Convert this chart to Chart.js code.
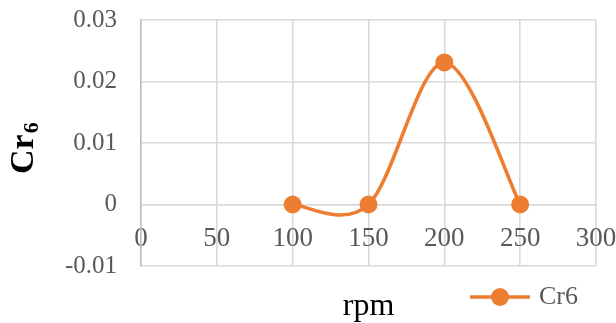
<!DOCTYPE html>
<html><head><meta charset="utf-8">
<script src="https://cdn.jsdelivr.net/npm/chart.js@4/dist/chart.umd.min.js"></script>
<style>html,body{margin:0;padding:0;background:#fff;}canvas{display:block;}</style>
</head><body>
<canvas id="c" width="616" height="323"></canvas>
<script>
const rpmValues = [100, 150, 200, 250];
const cr6Values = [0, 0, 0.0231, 0];
const seriesName = 'Cr6';
const xTitle = 'rpm';
const yTitleMain = 'Cr';
const yTitleSub = '6';
const xTickValues = [0, 50, 100, 150, 200, 250, 300];
const yTickValues = [-0.01, 0, 0.01, 0.02, 0.03];
const yTickLabels = ['-0.01', '0', '0.01', '0.02', '0.03'];

const ORANGE = '#ED7D31';
const GRID = '#d9d9d9';
const TXT = '#595959';
const SERIF = '"Liberation Serif", "Times New Roman", serif';

// legend marker image: line with dot
const mk = document.createElement('canvas');
mk.width = 60; mk.height = 20;
(function(){
  const g = mk.getContext('2d');
  g.strokeStyle = ORANGE; g.lineWidth = 3.5;
  g.beginPath(); g.moveTo(0, 10); g.lineTo(60, 10); g.stroke();
  g.fillStyle = ORANGE; g.beginPath(); g.arc(30, 10, 9, 0, Math.PI * 2); g.fill();
})();

const titlesPlugin = {
  id: 'titlesPlugin',
  afterDraw(chart) {
    const {ctx, chartArea} = chart;
    ctx.save();
    ctx.fillStyle = '#000';
    ctx.textAlign = 'center';
    ctx.textBaseline = 'alphabetic';
    ctx.font = '32px ' + SERIF;
    ctx.fillText(xTitle, (chartArea.left + chartArea.right) / 2, 315);
    // rotated y title with subscript
    ctx.translate(33, 174);
    ctx.rotate(-Math.PI / 2);
    ctx.textAlign = 'left';
    ctx.font = 'bold 34px ' + SERIF;
    ctx.fillText(yTitleMain, 0, 0);
    const w = ctx.measureText(yTitleMain).width;
    ctx.font = 'bold 22px ' + SERIF;
    ctx.fillText(yTitleSub, w + 1, 5);
    ctx.restore();
  }
};

// Excel-like smoothing: Catmull-Rom control points on the library's point elements
const smoothPlugin = {
  id: 'smoothPlugin',
  beforeDatasetDraw(chart, args) {
    const meta = args.meta;
    const line = meta.dataset;
    const pts = meta.data;
    if (!line || !pts.length) return;
    line.updateControlPoints(chart.chartArea, 'x');
    const n = pts.length;
    for (let i = 0; i < n; i++) {
      const p = pts[i], a = pts[Math.max(i - 1, 0)], b = pts[Math.min(i + 1, n - 1)];
      const tx = (b.x - a.x) / 6, ty = (b.y - a.y) / 6;
      p.cp1x = p.x - tx; p.cp1y = p.y - ty;
      p.cp2x = p.x + tx; p.cp2y = p.y + ty;
    }
  }
};

new Chart(document.getElementById('c'), {
  type: 'line',
  data: {
    datasets: [{
      label: seriesName,
      data: rpmValues.map((x, i) => ({x: x, y: cr6Values[i]})),
      borderColor: ORANGE,
      backgroundColor: ORANGE,
      borderWidth: 3.6,
      pointRadius: 9,
      pointHoverRadius: 9,
      pointBackgroundColor: ORANGE,
      pointBorderWidth: 0,
      tension: 0.4,
      fill: false
    }]
  },
  options: {
    responsive: false,
    devicePixelRatio: 1,
    animation: false,
    events: [],
    layout: {padding: {left: 0, right: 20, top: 20, bottom: 3}},
    plugins: {
      legend: {
        display: true,
        position: 'bottom',
        align: 'end',
        labels: {
          usePointStyle: true,
          pointStyle: mk,
          pointStyleWidth: 52,
          padding: 18,
          color: TXT,
          font: {family: SERIF, size: 26}
        }
      },
      tooltip: {enabled: false}
    },
    scales: {
      x: {
        type: 'linear',
        position: {y: 0},
        min: 0, max: 300,
        afterBuildTicks: s => { s.ticks = xTickValues.map(v => ({value: v})); },
        afterFit: s => { s.paddingLeft = 0; s.paddingRight = 0; },
        ticks: {color: TXT, font: {family: SERIF, size: 27}, padding: 18, maxRotation: 0, autoSkip: false},
        grid: {color: GRID, lineWidth: 1.6, drawTicks: false},
        border: {color: GRID, width: 1.6}
      },
      y: {
        type: 'linear',
        min: -0.01, max: 0.03,
        afterBuildTicks: s => { s.ticks = yTickValues.map(v => ({value: v})); },
        afterFit: s => { s.width = 141; s.paddingTop = 0; s.paddingBottom = 0; },
        ticks: {
          color: TXT, font: {family: SERIF, size: 25}, padding: 24,
          callback: (v) => { const i = yTickValues.findIndex(t => Math.abs(t - v) < 1e-9); return i >= 0 ? yTickLabels[i] : ''; }
        },
        grid: {color: GRID, lineWidth: 1.6, drawTicks: false},
        border: {color: '#bfbfbf', width: 1.6},
        title: {display: false}
      }
    }
  },
  plugins: [smoothPlugin, titlesPlugin]
});
</script>
</body></html>
